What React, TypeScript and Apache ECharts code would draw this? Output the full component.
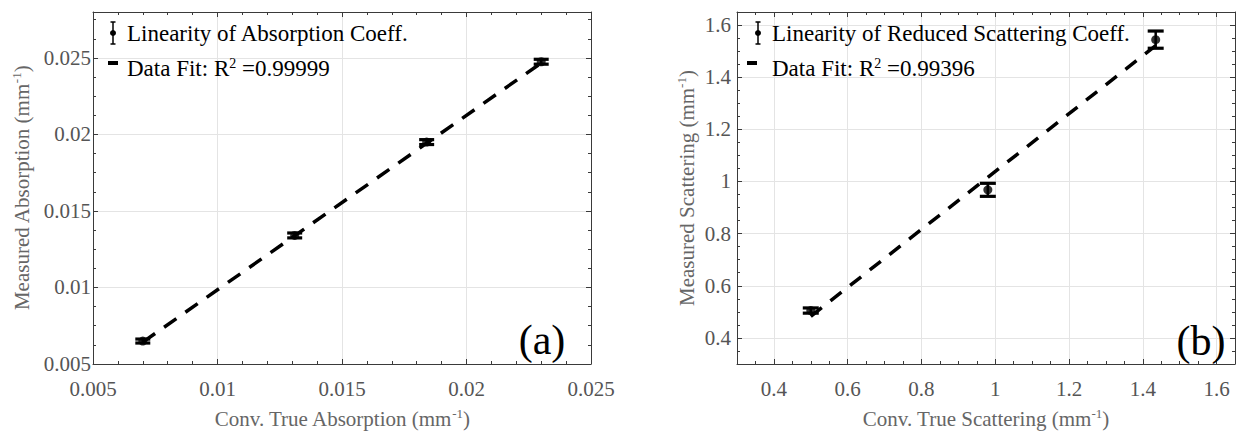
import React, { useEffect, useRef } from "react";
import * as echarts from "echarts";

// ---- data ----
const absTrueX = [0.007, 0.0131, 0.0184, 0.023];
const absMeasY = [0.0065, 0.0134, 0.0195, 0.02475];
const absErr = [0.00013, 0.00016, 0.00016, 0.00016];
const absFitX = [0.007, 0.023];
const absFitY = [0.00643, 0.02467];

const scaTrueX = [0.5, 0.98, 1.435];
const scaMeasY = [0.505, 0.968, 1.544];
const scaErr = [0.01, 0.025, 0.033];
const scaFitX = [0.5, 1.435];
const scaFitY = [0.483, 1.521];

const absXRange = [0.005, 0.025];
const absYRange = [0.005, 0.028];
const scaXRange = [0.3, 1.65];
const scaYRange = [0.3, 1.65];

const legendAbs = ["Linearity of Absorption Coeff.", "Data Fit: R{sup|2} =0.99999"];
const legendSca = ["Linearity of Reduced Scattering Coeff.", "Data Fit: R{sup|2} =0.99396"];
const panelLabels = ["(a)", "(b)"];

const FONT = "Liberation Serif";
const AXIS_COLOR = "#3a3a3a";
const TICK_COLOR = "#555555";
const NAME_COLOR = "#666666";
const GRID_COLOR = "#e4e4e4";

const supRich = (color: string) => ({
  sup: { fontSize: 13, fontFamily: FONT, color, verticalAlign: "top", lineHeight: 12 },
});

function multFormatter(step: number, digits: number) {
  return (v: number) => {
    const r = Math.round(v / step);
    return Math.abs(v - r * step) < step * 1e-4 ? String(+v.toFixed(digits)) : "";
  };
}

function mainAxis(dim: "x" | "y", gridIndex: number, range: number[], opts: any) {
  return {
    gridIndex,
    type: "value",
    min: range[0],
    max: range[1],
    ...(opts.interval ? { interval: opts.interval } : {}),
    ...(opts.splitNumber ? { splitNumber: opts.splitNumber } : {}),
    position: dim === "x" ? "bottom" : "left",
    axisLine: { show: true, onZero: false, lineStyle: { color: AXIS_COLOR, width: 1 } },
    axisTick: { show: true, inside: true, length: 5, lineStyle: { color: AXIS_COLOR } },
    minorTick: { show: true, splitNumber: opts.minor, length: 3, lineStyle: { color: AXIS_COLOR } },
    splitLine: { show: true, lineStyle: { color: GRID_COLOR, width: 1 } },
    minorSplitLine: { show: false },
    axisLabel: {
      show: true,
      margin: opts.labelMargin,
      fontSize: 21,
      fontFamily: FONT,
      color: TICK_COLOR,
      formatter: opts.formatter,
      showMinLabel: true,
      showMaxLabel: true,
      hideOverlap: false,
    },
    name: opts.name,
    nameLocation: "middle",
    nameGap: opts.nameGap,
    nameRotate: dim === "y" ? 90 : 0,
    nameTextStyle: {
      fontSize: 21,
      fontFamily: FONT,
      color: NAME_COLOR,
      lineHeight: 24,
      rich: supRich(NAME_COLOR),
    },
  };
}

function boxAxis(dim: "x" | "y", gridIndex: number, range: number[], opts: any) {
  return {
    gridIndex,
    type: "value",
    min: range[0],
    max: range[1],
    ...(opts.interval ? { interval: opts.interval } : {}),
    ...(opts.splitNumber ? { splitNumber: opts.splitNumber } : {}),
    position: dim === "x" ? "top" : "right",
    axisLine: { show: true, onZero: false, lineStyle: { color: AXIS_COLOR, width: 1 } },
    axisTick: { show: true, inside: true, length: 5, lineStyle: { color: AXIS_COLOR } },
    minorTick: { show: true, splitNumber: opts.minor, length: 3, lineStyle: { color: AXIS_COLOR } },
    splitLine: { show: false },
    axisLabel: { show: false },
  };
}

function errorBarSeries(xs: number[], ys: number[], errs: number[], xi: number, yi: number, capHalf: number) {
  return {
    type: "custom",
    xAxisIndex: xi,
    yAxisIndex: yi,
    data: xs.map((x, i) => [x, ys[i] - errs[i], ys[i] + errs[i]]),
    encode: { x: 0, y: [1, 2] },
    z: 3,
    renderItem: (params: any, api: any) => {
      const x = api.value(0);
      const lo = api.coord([x, api.value(1)]);
      const hi = api.coord([x, api.value(2)]);
      return {
        type: "group",
        children: [
          { type: "line", shape: { x1: lo[0], y1: lo[1], x2: hi[0], y2: hi[1] }, style: { stroke: "#000", lineWidth: 2.5 } },
          { type: "line", shape: { x1: lo[0] - capHalf, y1: lo[1], x2: lo[0] + capHalf, y2: lo[1] }, style: { stroke: "#000", lineWidth: 3.2 } },
          { type: "line", shape: { x1: hi[0] - capHalf, y1: hi[1], x2: hi[0] + capHalf, y2: hi[1] }, style: { stroke: "#000", lineWidth: 3.2 } },
        ],
      };
    },
  };
}

function legendGraphics(iconX: number, dashX: number, textX: number, texts: string[]) {
  const textStyle = (t: string, y: number) => ({
    type: "text",
    x: textX,
    y,
    style: {
      text: t,
      fontSize: 23,
      fontFamily: FONT,
      fill: "#000",
      verticalAlign: "middle",
      align: "left",
      rich: { sup: { fontSize: 14, fontFamily: FONT, fill: "#000", verticalAlign: "top", lineHeight: 12 } },
    },
    z: 10,
  });
  return [
    { type: "line", shape: { x1: iconX, y1: 22, x2: iconX, y2: 44 }, style: { stroke: "#000", lineWidth: 1.5 }, z: 10 },
    { type: "line", shape: { x1: iconX - 2.5, y1: 22, x2: iconX + 2.5, y2: 22 }, style: { stroke: "#000", lineWidth: 1.5 }, z: 10 },
    { type: "line", shape: { x1: iconX - 2.5, y1: 44, x2: iconX + 2.5, y2: 44 }, style: { stroke: "#000", lineWidth: 1.5 }, z: 10 },
    { type: "circle", shape: { cx: iconX, cy: 33, r: 3 }, style: { fill: "#000" }, z: 10 },
    textStyle(texts[0], 33),
    { type: "line", shape: { x1: dashX, y1: 63, x2: dashX + 10, y2: 63 }, style: { stroke: "#000", lineWidth: 4 }, z: 10 },
    textStyle(texts[1], 68),
  ];
}

export default function App() {
  const ref = useRef<HTMLDivElement>(null);
  useEffect(() => {
    if (!ref.current) return;
    const chart = echarts.init(ref.current, null, { renderer: "svg" });
    const option: any = {
      animation: false,
      backgroundColor: "#ffffff",
      textStyle: { fontFamily: FONT },
      grid: [
        { left: 93, top: 12, width: 498, height: 359, containLabel: false },
        { left: 737, top: 12, width: 500, height: 359, containLabel: false },
      ],
      xAxis: [
        mainAxis("x", 0, absXRange, {
          interval: 0.005, minor: 5, labelMargin: 14, formatter: multFormatter(0.005, 3),
          name: "Conv. True Absorption (mm{sup|-1})", nameGap: 43,
        }),
        boxAxis("x", 0, absXRange, { interval: 0.005, minor: 5 }),
        mainAxis("x", 1, scaXRange, {
          splitNumber: 7, minor: 4, labelMargin: 14, formatter: multFormatter(0.2, 1),
          name: "Conv. True Scattering (mm{sup|-1})", nameGap: 43,
        }),
        boxAxis("x", 1, scaXRange, { splitNumber: 7, minor: 4 }),
      ],
      yAxis: [
        mainAxis("y", 0, absYRange, {
          interval: 0.005, minor: 4, labelMargin: 2, formatter: multFormatter(0.005, 3),
          name: "Measured Absorption (mm{sup|-1})", nameGap: 59,
        }),
        boxAxis("y", 0, absYRange, { interval: 0.005, minor: 4 }),
        mainAxis("y", 1, scaYRange, {
          splitNumber: 7, minor: 4, labelMargin: 6, formatter: multFormatter(0.2, 1),
          name: "Measured Scattering (mm{sup|-1})", nameGap: 38,
        }),
        boxAxis("y", 1, scaYRange, { splitNumber: 7, minor: 4 }),
      ],
      series: [
        {
          type: "line",
          xAxisIndex: 0,
          yAxisIndex: 0,
          data: absFitX.map((x, i) => [x, absFitY[i]]),
          symbol: "none",
          lineStyle: { color: "#000", width: 3.5, type: [15, 11], cap: "butt" },
          z: 2,
        },
        errorBarSeries(absTrueX, absMeasY, absErr, 0, 0, 7.5),
        {
          type: "scatter",
          xAxisIndex: 0,
          yAxisIndex: 0,
          data: absTrueX.map((x, i) => [x, absMeasY[i]]),
          symbol: "circle",
          symbolSize: 9,
          itemStyle: { color: "#000" },
          z: 4,
        },
        {
          type: "line",
          xAxisIndex: 2,
          yAxisIndex: 2,
          data: scaFitX.map((x, i) => [x, scaFitY[i]]),
          symbol: "none",
          lineStyle: { color: "#000", width: 3.5, type: [14, 11], cap: "butt" },
          z: 2,
        },
        errorBarSeries(scaTrueX, scaMeasY, scaErr, 2, 2, 8),
        {
          type: "scatter",
          xAxisIndex: 2,
          yAxisIndex: 2,
          data: scaTrueX.map((x, i) => [x, scaMeasY[i]]),
          symbol: "circle",
          symbolSize: 9,
          itemStyle: { color: "#000" },
          z: 4,
        },
      ],
      graphic: [
        ...legendGraphics(113, 108, 127, legendAbs),
        ...legendGraphics(758, 747, 772, legendSca),
        {
          type: "text", x: 542, y: 340, z: 10,
          style: { text: panelLabels[0], fontSize: 42, fontFamily: FONT, fill: "#000", align: "center", verticalAlign: "middle" },
        },
        {
          type: "text", x: 1201, y: 341, z: 10,
          style: { text: panelLabels[1], fontSize: 42, fontFamily: FONT, fill: "#000", align: "center", verticalAlign: "middle" },
        },
      ],
    };
    chart.setOption(option);
    return () => chart.dispose();
  }, []);
  return (
    <div
      ref={ref}
      style={{ position: "absolute", left: 0, top: 0, width: 1238, height: 436, background: "#fff" }}
    />
  );
}
